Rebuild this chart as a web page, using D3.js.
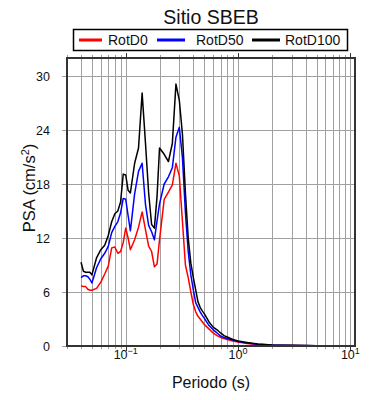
<!DOCTYPE html>
<html>
<head>
<meta charset="utf-8">
<script src="https://cdn.jsdelivr.net/npm/d3@7"></script>
<style>
  body { margin: 0; background: #fff; }
  text { font-family: "Liberation Sans", Arial, Helvetica, sans-serif; fill: #111; }
</style>
</head>
<body>
<script>
// spectra
var periods = [0.04, 0.042, 0.044, 0.046, 0.048, 0.05, 0.055, 0.06, 0.065, 0.07,
  0.075, 0.08, 0.085, 0.09, 0.095, 0.1, 0.105, 0.11, 0.12, 0.13,
  0.14, 0.15, 0.16, 0.17, 0.18, 0.19, 0.2, 0.22, 0.24, 0.26,
  0.28, 0.3, 0.32, 0.34, 0.36, 0.38, 0.4, 0.42, 0.44, 0.46,
  0.48, 0.5, 0.55, 0.6, 0.65, 0.7, 0.75, 0.8, 0.9, 1.0,
  1.2, 1.5, 2, 3, 4, 5, 7, 10];

var rotD0 = [6.7, 6.6, 6.6, 6.3, 6.2, 6.2, 6.4, 7.1, 8.0, 8.9,
  10.9, 11.0, 10.3, 10.5, 11.5, 13.1, 12.0, 10.7, 11.8, 13.2,
  14.9, 12.9, 11.1, 10.5, 8.8, 9.1, 11.8, 16.3, 17.1, 17.9,
  20.3, 18.9, 13.8, 9.0, 7.6, 6.0, 4.6, 3.8, 3.3, 3.0,
  2.7, 2.4, 1.9, 1.45, 1.15, 0.95, 0.83, 0.72, 0.55, 0.44,
  0.28, 0.17, 0.09, 0.05, 0.04, 0.03, 0.02, 0.012];

var rotD50 = [7.6, 7.8, 7.8, 7.7, 7.4, 7.0, 8.7, 9.7, 10.3, 11.1,
  12.6, 13.3, 13.8, 14.8, 16.4, 16.3, 14.5, 12.8, 16.9, 19.4,
  20.3, 15.7, 13.4, 12.7, 11.8, 13.9, 15.8, 18.0, 18.8, 19.8,
  23.2, 24.3, 20.9, 14.8, 10.5, 7.9, 6.2, 4.8, 4.3, 3.8,
  3.4, 3.1, 2.3, 1.8, 1.45, 1.1, 0.95, 0.83, 0.65, 0.5,
  0.33, 0.19, 0.1, 0.06, 0.045, 0.035, 0.02, 0.015];

var rotD100 = [9.3, 8.3, 8.2, 8.2, 8.2, 7.9, 9.8, 10.7, 11.2, 12.3,
  13.8, 14.7, 15.0, 16.0, 19.1, 19.0, 17.3, 17.0, 20.3, 22.0,
  28.1, 22.5, 17.0, 13.5, 13.1, 16.6, 22.0, 21.3, 20.5, 22.5,
  29.1, 27.3, 23.5, 17.0, 12.0, 9.2, 7.6, 6.2, 4.9, 4.3,
  3.9, 3.6, 2.7, 2.1, 1.8, 1.45, 1.15, 1.0, 0.72, 0.55,
  0.4, 0.22, 0.12, 0.07, 0.05, 0.04, 0.025, 0.02];

var seriesNames = ['RotD0', 'RotD50', 'RotD100'];
var seriesColors = ['#ff0000', '#0000ff', '#000000'];
var yTicks = [0, 6, 12, 18, 24, 30];
var xMajor = [0.1, 1, 10];
var xExp = ['\u22121', '0', '1'];

var width = 390, height = 400;
var plotL = 67, plotR = 355, plotT = 58, plotB = 346;

var svg = d3.select('body').append('svg')
  .attr('width', width)
  .attr('height', height);

var x = d3.scaleLog().domain([0.03, 11]).range([plotL, plotR]);
var y = d3.scaleLinear().domain([0, 32]).range([plotB, plotT]);

// minor + major positions for grid
var xGrid = [];
[0.01, 0.1, 1, 10].forEach(function(d) {
  for (var i = 1; i < 10; i++) {
    var v = d * i;
    if (v >= 0.03 && v <= 11) xGrid.push(v);
  }
});

function px(v) { return Math.round(v) + 0.5; }
function isMajor(d) { return xMajor.some(function(m) { return Math.abs(m - d) < 1e-9; }); }

var grid = svg.append('g').attr('stroke', '#a0a0a0').attr('stroke-width', 1);
grid.selectAll('.vg').data(xGrid).enter().append('line')
  .attr('x1', function(d) { return px(x(d)); })
  .attr('x2', function(d) { return px(x(d)); })
  .attr('y1', plotT).attr('y2', plotB);
grid.selectAll('.hg').data(yTicks.slice(1)).enter().append('line')
  .attr('x1', plotL).attr('x2', plotR)
  .attr('y1', function(d) { return px(y(d)); })
  .attr('y2', function(d) { return px(y(d)); });

// outer ticks
var ticks = svg.append('g');
ticks.selectAll('.tt').data(xGrid).enter().append('line')
  .attr('x1', function(d) { return px(x(d)); })
  .attr('x2', function(d) { return px(x(d)); })
  .attr('y1', plotT)
  .attr('y2', function(d) { return isMajor(d) ? plotT - 5 : plotT - 3; })
  .attr('stroke', function(d) { return isMajor(d) ? '#333' : '#a0a0a0'; });
ticks.selectAll('.bt').data(xGrid).enter().append('line')
  .attr('x1', function(d) { return px(x(d)); })
  .attr('x2', function(d) { return px(x(d)); })
  .attr('y1', plotB)
  .attr('y2', function(d) { return isMajor(d) ? plotB + 5 : plotB + 3; })
  .attr('stroke', function(d) { return isMajor(d) ? '#333' : '#a0a0a0'; });
ticks.selectAll('.lt').data(yTicks).enter().append('line')
  .attr('x1', plotL - 5).attr('x2', plotL)
  .attr('y1', function(d) { return px(y(d)); })
  .attr('y2', function(d) { return px(y(d)); })
  .attr('stroke', '#a0a0a0');

// curves
var line = d3.line()
  .x(function(d) { return x(d[0]); })
  .y(function(d) { return y(d[1]); });

[rotD0, rotD50, rotD100].forEach(function(vals, i) {
  svg.append('path')
    .datum(periods.map(function(p, j) { return [p, vals[j]]; }))
    .attr('fill', 'none')
    .attr('stroke', seriesColors[i])
    .attr('stroke-width', 1.5)
    .attr('stroke-linejoin', 'round')
    .attr('d', line);
});

// frame
svg.append('rect')
  .attr('x', plotL).attr('y', plotT)
  .attr('width', plotR - plotL).attr('height', plotB - plotT)
  .attr('fill', 'none').attr('stroke', '#333').attr('stroke-width', 2);

// y labels
svg.selectAll('.yl').data(yTicks).enter().append('text')
  .attr('x', 50).attr('y', function(d) { return y(d); })
  .attr('dy', '0.36em')
  .attr('text-anchor', 'end')
  .attr('font-size', 12.5)
  .text(function(d) { return d; });

// x labels 10^n
var xl = svg.selectAll('.xl').data(xMajor).enter().append('text')
  .attr('x', function(d) { return x(d); })
  .attr('y', 359)
  .attr('text-anchor', 'middle')
  .attr('font-size', 12.5);
xl.append('tspan').text('10');
xl.append('tspan')
  .attr('dy', -5)
  .attr('font-size', 9)
  .text(function(d, i) { return xExp[i]; });

// axis titles
svg.append('text')
  .attr('x', (plotL + plotR) / 2).attr('y', 388)
  .attr('text-anchor', 'middle')
  .attr('font-size', 16)
  .text('Periodo (s)');

var yt = svg.append('text')
  .attr('transform', 'translate(35,188) rotate(-90)')
  .attr('text-anchor', 'middle')
  .attr('font-size', 16.5);
yt.append('tspan').text('PSA (cm/s');
yt.append('tspan').attr('dy', -6).attr('font-size', 11).text('2');
yt.append('tspan').attr('dy', 6).text(')');

// title
svg.append('text')
  .attr('x', (plotL + plotR) / 2).attr('y', 24)
  .attr('text-anchor', 'middle')
  .attr('font-size', 19.5)
  .text('Sitio SBEB');

// legend
var lg = svg.append('g');
lg.append('rect')
  .attr('x', 73.5).attr('y', 29.5)
  .attr('width', 274).attr('height', 21)
  .attr('fill', '#fff').attr('stroke', '#000').attr('stroke-width', 1.5);
var lineX = [79, 157, 252];
var textX = [108, 196, 285];
seriesNames.forEach(function(n, i) {
  lg.append('line')
    .attr('x1', lineX[i]).attr('x2', lineX[i] + 23 + (i > 0 ? 5 : 0))
    .attr('y1', 40).attr('y2', 40)
    .attr('stroke', seriesColors[i]).attr('stroke-width', 3);
  lg.append('text')
    .attr('x', textX[i]).attr('y', 45)
    .attr('font-size', 14)
    .text(n);
});
</script>
</body>
</html>
